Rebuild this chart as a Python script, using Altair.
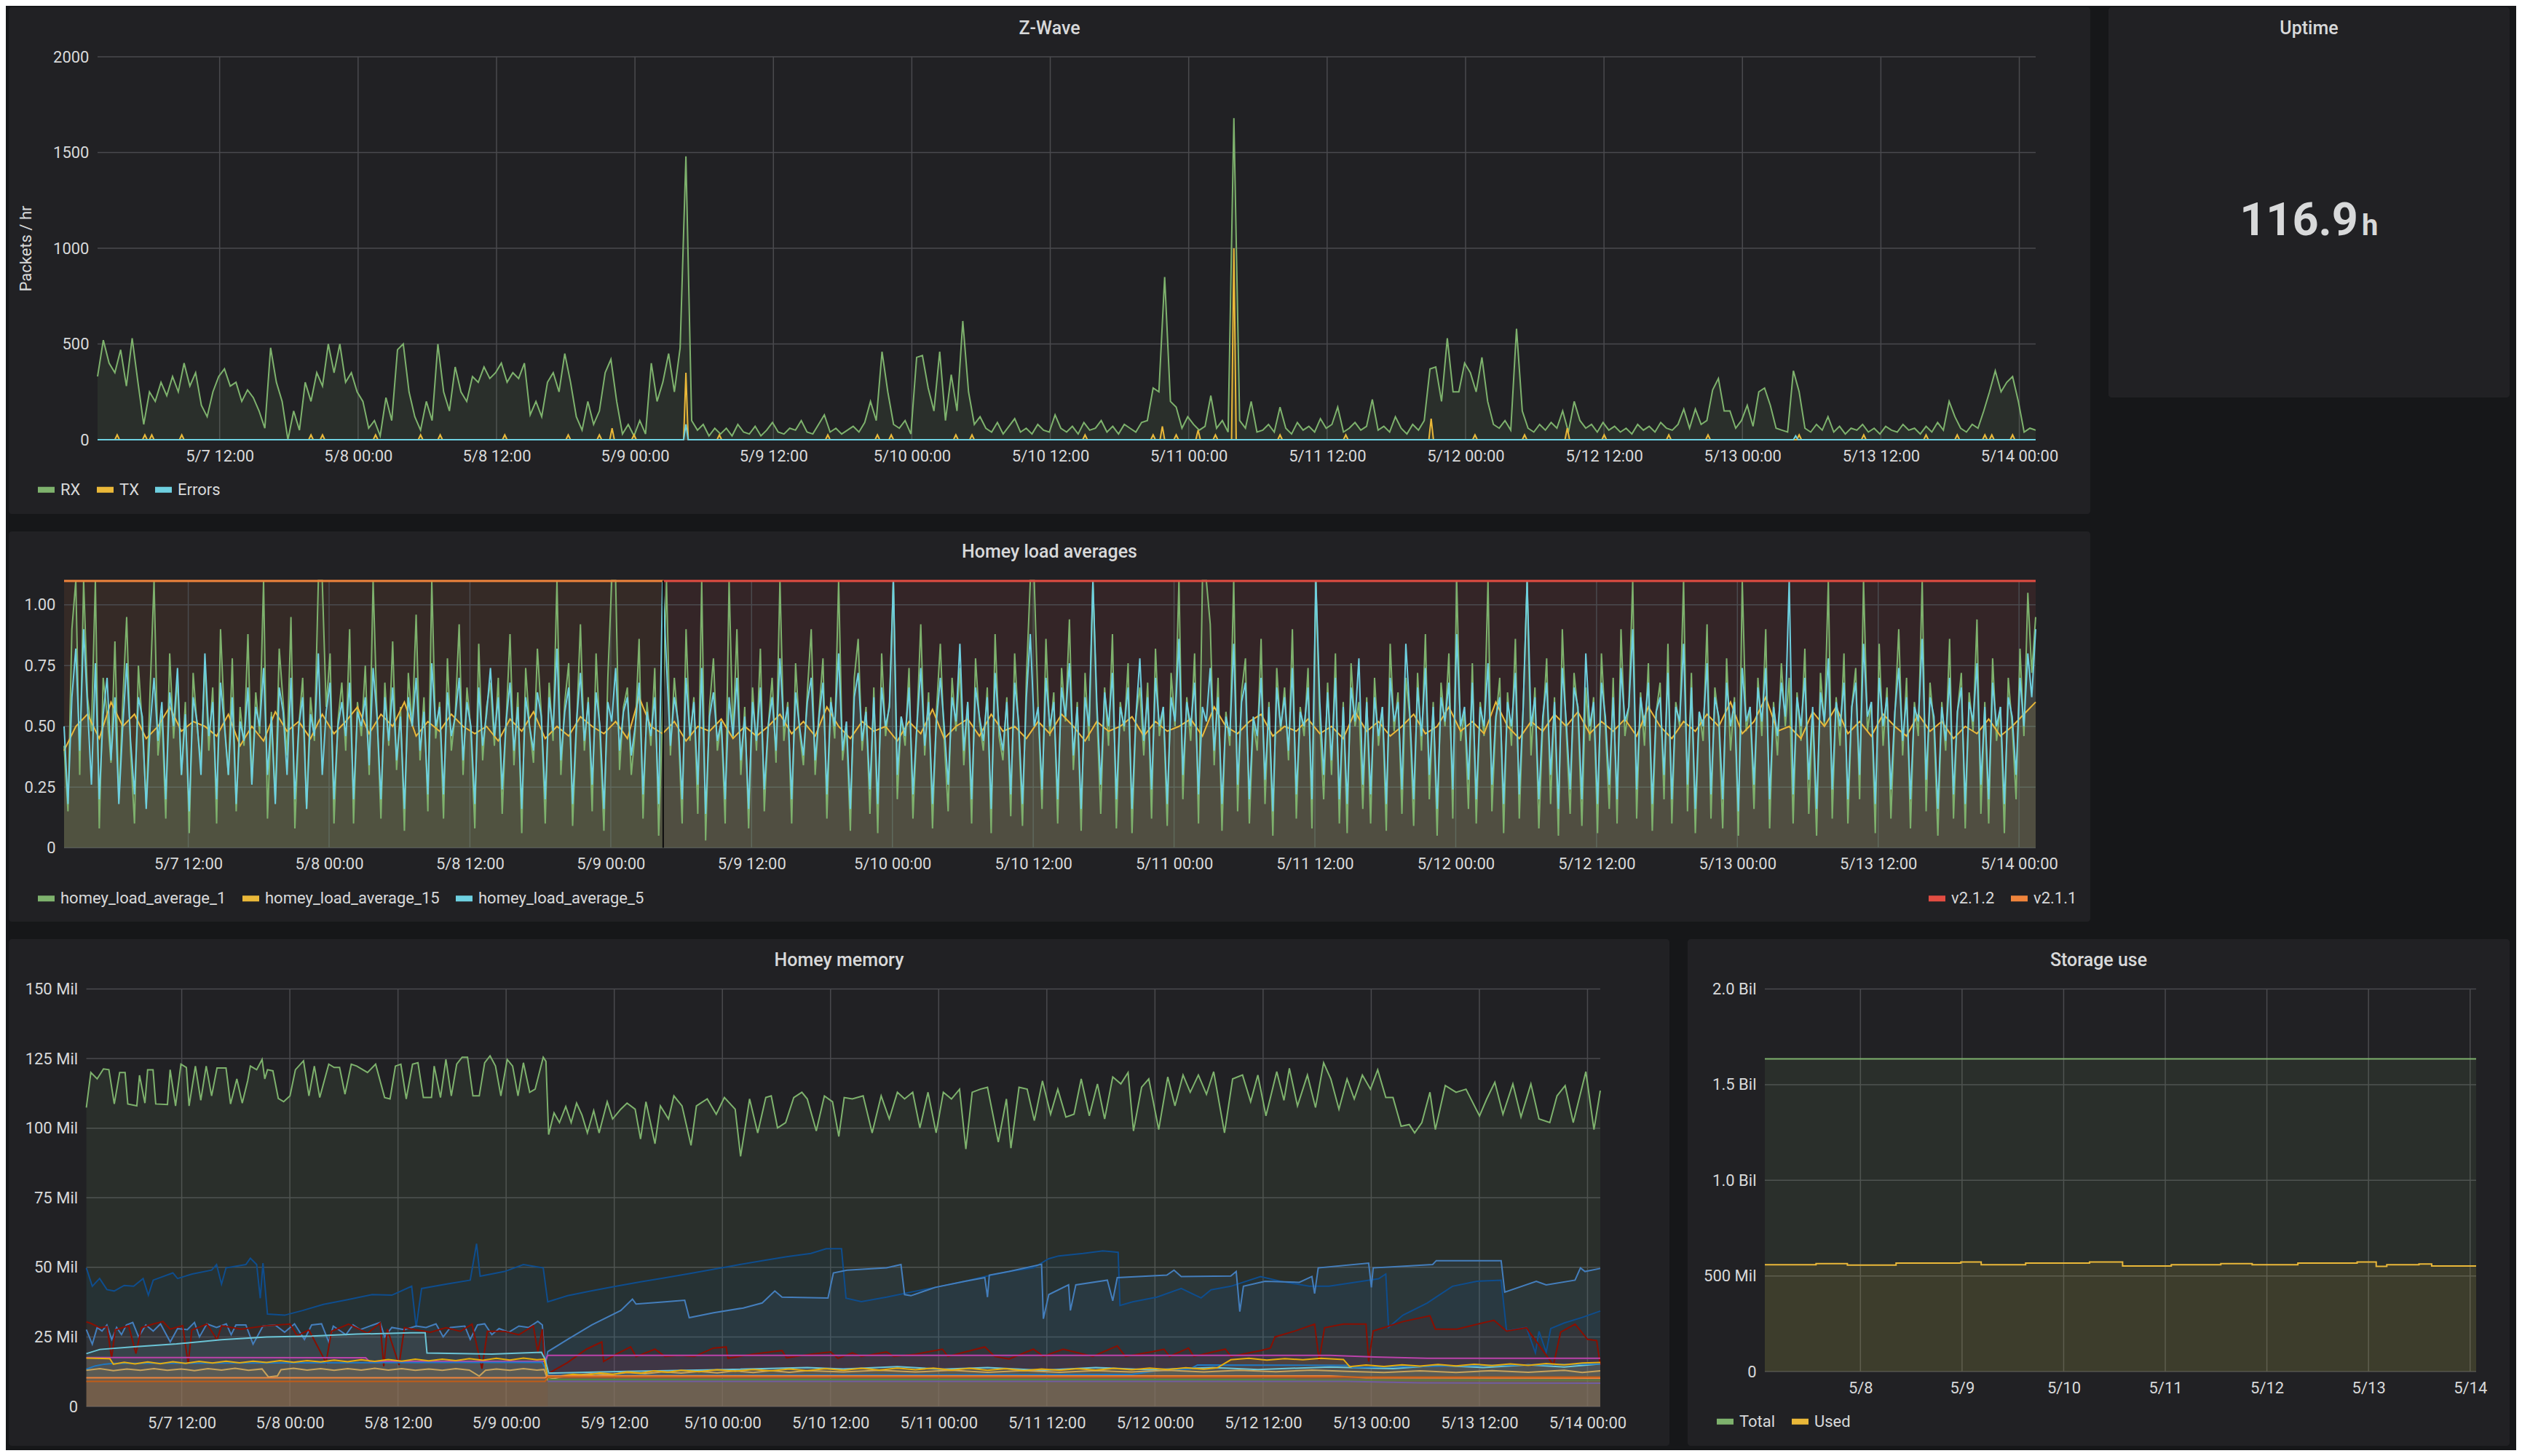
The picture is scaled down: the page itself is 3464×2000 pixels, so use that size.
import altair as alt
import pandas as pd
from datetime import datetime, timedelta

FONT = "Roboto"
BG = "#161719"
PANEL = "#212124"
TEXT = "#d8d9da"
GRID = "#4a4a4e"

START = datetime(2019, 5, 7, 1, 25)
SPAN_H = 168
END = START + timedelta(hours=SPAN_H)


def iso(h):
    return (START + timedelta(hours=h)).strftime("%Y-%m-%dT%H:%M:%S")


def to_alt(dt):
    return alt.DateTime(year=dt.year, month=dt.month, date=dt.day, hours=dt.hour, minutes=dt.minute)


X_DOMAIN = [to_alt(START), to_alt(END)]
TICK_12H = [datetime(2019, 5, d, hh) for d in range(7, 15) for hh in (0, 12)
            if START < datetime(2019, 5, d, hh) < END]
TICK_DAY = [datetime(2019, 5, d) for d in range(8, 15)]

# ---------------- Z-Wave data (packets / hr), half-hour samples ----------------
RX = [
    330, 520, 400, 350, 470, 280, 530, 300, 80, 250, 200, 300, 230, 330, 250, 400, 280, 350, 180, 120, 250, 330, 370, 280,
    300, 200, 260, 220, 150, 60, 480, 300, 200, 0, 150, 50, 300, 200, 350, 280, 500, 350, 500, 300, 350, 250, 200, 60,
    100, 20, 220, 100, 470, 500, 250, 120, 50, 200, 100, 500, 250, 150, 380, 250, 200, 330, 300, 380, 320, 350, 400, 300,
    350, 320, 400, 130, 200, 120, 300, 350, 250, 450, 300, 120, 50, 200, 80, 150, 350, 420, 200, 30, 80, 20, 100, 30,
    400, 200, 300, 450, 250, 480, 1480, 100, 50, 80, 20, 60, 30, 60, 20, 80, 40, 30, 70, 20, 50, 90, 40, 30,
    60, 50, 100, 40, 30, 80, 130, 40, 60, 30, 50, 70, 40, 90, 200, 100, 460, 250, 80, 60, 100, 30, 430, 440,
    270, 150, 460, 100, 340, 150, 620, 250, 80, 120, 60, 40, 90, 30, 70, 110, 40, 60, 30, 80, 50, 40, 130, 60,
    40, 70, 30, 90, 50, 60, 100, 40, 70, 30, 80, 60, 40, 90, 100, 270, 250, 850, 200, 170, 60, 120, 80, 50,
    70, 230, 60, 100, 40, 1680, 100, 60, 200, 40, 50, 80, 40, 170, 60, 30, 90, 50, 70, 40, 110, 60, 80, 170,
    40, 60, 90, 50, 70, 210, 50, 70, 40, 120, 60, 30, 80, 50, 100, 370, 380, 200, 530, 250, 250, 400, 350, 250,
    430, 200, 80, 60, 100, 50, 580, 150, 60, 40, 80, 50, 90, 60, 150, 40, 200, 100, 60, 80, 40, 90, 50, 70,
    40, 60, 30, 80, 50, 70, 40, 90, 60, 50, 80, 160, 60, 160, 80, 100, 260, 320, 150, 150, 60, 100, 180, 70,
    250, 270, 180, 60, 50, 40, 360, 250, 60, 40, 80, 50, 120, 40, 70, 30, 60, 50, 80, 40, 60, 30, 70, 50,
    40, 80, 50, 60, 30, 70, 40, 90, 50, 200, 120, 60, 40, 80, 60, 150, 250, 360, 250, 300, 330, 200, 40, 60,
    50,
]
TX_BUMPS = [(1.7, 25), (4.1, 25), (4.7, 25), (7.3, 25), (18.5, 25), (19.5, 25), (24.1, 25), (28.0, 25),
            (29.7, 25), (35.3, 25), (40.8, 25), (43.5, 25), (44.6, 60), (46.5, 25), (51.0, 350), (53.9, 25),
            (63.3, 25), (67.6, 25), (68.8, 25), (74.4, 25), (75.8, 25), (85.6, 25), (91.5, 25), (92.3, 70),
            (93.5, 25), (95.4, 50), (96.9, 25), (98.5, 1000), (102.5, 25), (108.2, 25), (115.6, 110),
            (119.4, 25), (123.7, 25), (127.4, 60), (130.6, 25), (136.2, 25), (139.6, 25), (147.5, 25),
            (153.1, 25), (158.5, 25), (161.2, 25), (163.6, 25), (164.2, 25), (166.0, 25)]
ERR_BUMPS = [(51.0, 80), (147.2, 20)]
ZW_SERIES = ["RX", "TX", "Errors"]
ZW_COLORS = ["#7EB26D", "#EAB839", "#6ED0E0"]

# ---------------- Load averages (20-minute samples for 1 and 5, hourly for 15) ----------------
LOAD_1 = [
    0.42, 0.15, 0.9, 1.25, 0.3, 1.3, 0.62, 0.48, 1.2, 0.08, 0.7, 0.55, 0.35, 0.85, 0.2, 0.6, 0.95, 0.4, 0.1, 0.75, 0.5, 0.18, 0.65, 1.15,
    0.38, 0.55, 0.12, 0.8, 0.45, 0.7, 0.3, 0.6, 0.06, 0.72, 0.5, 0.35, 0.76, 0.4, 0.66, 0.1, 0.9, 0.52, 0.3, 0.78, 0.15, 0.58, 0.42, 0.88,
    0.27, 0.64, 0.47, 1.12, 0.12, 0.56, 0.2, 0.82, 0.6, 0.38, 0.95, 0.08, 0.5, 0.7, 0.16, 0.62, 0.44, 1.2, 1.15, 0.58, 0.8, 0.1, 0.52, 0.68,
    0.4, 0.9, 0.1, 0.6, 0.46, 0.75, 0.3, 1.1, 0.55, 0.12, 0.68, 0.42, 0.85, 0.32, 0.58, 0.07, 0.72, 0.5, 0.96, 0.36, 0.62, 0.15, 1.15, 0.45,
    0.6, 0.12, 0.78, 0.4, 0.55, 0.92, 0.3, 0.66, 0.48, 0.08, 0.84, 0.36, 0.58, 0.68, 0.42, 0.7, 0.14, 0.52, 0.88, 0.34, 0.64, 0.06, 0.74, 0.5,
    0.35, 0.82, 0.55, 0.1, 0.68, 0.44, 1.2, 0.3, 0.6, 0.76, 0.09, 0.5, 0.92, 0.4, 0.62, 0.15, 0.8, 0.46, 0.07, 0.7, 1.15, 1.25, 0.32, 0.58,
    0.66, 0.3, 0.48, 0.86, 0.12, 0.6, 0.42, 0.74, 0.05, 0.56, 1.22, 0.38, 0.7, 0.5, 0.1, 0.9, 0.44, 0.62, 0.14, 1.12, 0.03, 0.58, 0.78, 0.4,
    0.52, 0.1, 1.2, 0.45, 0.9, 0.3, 0.58, 0.08, 0.66, 0.4, 0.82, 0.15, 0.5, 0.7, 0.35, 1.15, 0.44, 0.6, 0.1, 0.76, 0.48, 0.34, 0.64, 0.9,
    0.3, 0.56, 0.78, 0.12, 0.62, 0.45, 1.1, 0.36, 0.5, 0.07, 0.7, 0.86, 0.4, 0.58, 0.14, 0.66, 0.06, 0.8, 0.46, 0.6, 1.2, 0.2, 0.54, 0.42,
    0.74, 0.12, 0.5, 0.92, 0.38, 0.64, 0.08, 0.56, 0.84, 0.44, 0.15, 0.7, 0.48, 0.74, 0.34, 0.6, 0.1, 0.78, 0.52, 0.4, 0.66, 0.06, 0.88, 0.46,
    0.36, 0.62, 0.13, 0.8, 0.5, 0.09, 0.7, 1.2, 1.15, 0.58, 0.16, 0.86, 0.46, 0.64, 0.1, 0.74, 0.52, 0.94, 0.32, 0.6, 0.07, 0.72, 0.44, 1.1,
    0.56, 0.14, 0.66, 0.42, 0.88, 0.08, 0.6, 0.48, 0.76, 0.06, 0.54, 0.66, 0.38, 0.68, 0.12, 0.82, 0.46, 0.58, 0.09, 0.72, 0.5, 1.18, 0.2, 0.62,
    0.44, 0.8, 0.1, 1.2, 1.1, 0.92, 0.34, 0.7, 0.07, 0.56, 0.42, 1.12, 0.15, 0.64, 0.78, 0.1, 0.52, 0.4, 0.86, 0.18, 0.6, 0.05, 0.74, 0.48,
    0.66, 0.36, 0.9, 0.12, 0.58, 0.46, 0.74, 0.08, 1.2, 0.52, 0.2, 0.68, 0.3, 0.8, 0.1, 0.6, 0.06, 0.76, 0.5, 0.6, 0.16, 0.62, 0.1, 0.7,
    0.42, 0.58, 0.07, 0.84, 0.48, 0.64, 0.14, 0.7, 0.54, 0.09, 0.72, 0.4, 0.88, 0.2, 0.6, 0.05, 0.68, 0.5, 0.8, 0.12, 1.15, 0.44, 0.56, 0.16,
    0.76, 0.1, 0.6, 0.46, 1.2, 0.15, 0.52, 0.7, 0.06, 0.64, 0.42, 0.86, 0.12, 0.58, 1.2, 0.38, 0.66, 0.08, 0.5, 0.78, 0.18, 0.62, 0.05, 0.9,
    0.48, 0.14, 0.72, 0.56, 0.09, 0.66, 0.44, 0.62, 0.06, 0.8, 0.5, 0.16, 0.7, 0.1, 0.9, 0.46, 0.58, 1.18, 0.12, 0.64, 0.42, 0.76, 0.07, 0.56,
    0.68, 0.2, 0.84, 0.1, 0.6, 0.5, 1.12, 0.15, 0.72, 0.06, 0.56, 0.44, 0.92, 0.12, 0.66, 0.52, 0.08, 0.78, 0.4, 0.62, 0.05, 1.2, 0.48, 0.58,
    0.16, 0.7, 0.46, 0.9, 0.08, 0.6, 0.38, 0.76, 0.5, 0.7, 0.1, 0.64, 0.44, 0.82, 0.14, 0.56, 0.05, 0.72, 0.5, 1.2, 0.12, 0.62, 0.42, 0.8,
    0.1, 0.58, 0.74, 0.2, 1.1, 0.48, 0.6, 0.06, 0.84, 0.42, 0.66, 0.12, 0.54, 0.9, 0.38, 0.7, 0.08, 0.6, 0.46, 1.15, 0.15, 0.68, 0.5, 0.05,
    0.6, 0.4, 0.86, 0.12, 0.56, 0.72, 0.08, 0.64, 0.48, 0.94, 0.14, 0.6, 0.1, 0.78, 0.44, 0.58, 0.06, 0.7, 0.5, 0.2, 0.82, 0.46, 1.05, 0.72,
    0.95,
]
LOAD_5 = [
    0.5, 0.18, 0.62, 0.82, 0.4, 0.9, 0.58, 0.26, 0.76, 0.2, 0.55, 0.7, 0.36, 0.62, 0.18, 0.5, 0.76, 0.44, 0.22, 0.62, 0.54, 0.16, 0.5, 0.7,
    0.44, 0.6, 0.2, 0.64, 0.5, 0.74, 0.3, 0.55, 0.15, 0.62, 0.52, 0.3, 0.8, 0.46, 0.6, 0.2, 0.68, 0.5, 0.3, 0.62, 0.18, 0.52, 0.44, 0.66,
    0.26, 0.58, 0.5, 0.74, 0.3, 0.54, 0.18, 0.66, 0.56, 0.3, 0.7, 0.2, 0.5, 0.62, 0.16, 0.55, 0.46, 0.8, 0.3, 0.56, 0.68, 0.2, 0.5, 0.6,
    0.46, 0.68, 0.2, 0.56, 0.5, 0.62, 0.34, 0.74, 0.54, 0.2, 0.62, 0.44, 0.66, 0.36, 0.54, 0.16, 0.62, 0.5, 0.7, 0.4, 0.56, 0.22, 0.76, 0.5,
    0.58, 0.22, 0.64, 0.46, 0.54, 0.7, 0.36, 0.6, 0.5, 0.18, 0.66, 0.42, 0.55, 0.74, 0.46, 0.62, 0.24, 0.52, 0.68, 0.4, 0.58, 0.16, 0.62, 0.5,
    0.4, 0.64, 0.54, 0.2, 0.62, 0.48, 0.82, 0.36, 0.56, 0.66, 0.18, 0.52, 0.72, 0.44, 0.6, 0.26, 0.64, 0.5, 0.16, 0.6, 0.52, 0.74, 0.4, 0.56,
    0.62, 0.38, 0.5, 0.68, 0.22, 0.56, 0.46, 0.62, 0.18, 1.1, 0.76, 0.42, 0.62, 0.52, 0.2, 0.7, 0.46, 0.6, 0.26, 0.74, 0.14, 0.54, 0.64, 0.44,
    0.52, 0.2, 0.62, 0.46, 0.7, 0.36, 0.54, 0.16, 0.6, 0.44, 0.66, 0.24, 0.5, 0.62, 0.4, 0.78, 0.5, 0.58, 0.2, 0.64, 0.5, 0.38, 0.6, 0.7,
    0.36, 0.54, 0.68, 0.22, 0.6, 0.5, 0.8, 0.4, 0.52, 0.16, 0.62, 0.72, 0.44, 0.56, 0.24, 0.62, 0.18, 0.66, 0.5, 0.58, 1.1, 0.3, 0.54, 0.46,
    0.66, 0.22, 0.5, 0.74, 0.42, 0.6, 0.18, 0.52, 0.7, 0.5, 0.26, 0.62, 0.52, 0.84, 0.4, 0.6, 0.2, 0.66, 0.54, 0.44, 0.62, 0.16, 0.72, 0.5,
    0.4, 0.6, 0.22, 0.68, 0.52, 0.18, 0.62, 0.88, 0.5, 0.58, 0.24, 0.7, 0.5, 0.6, 0.2, 0.66, 0.54, 0.76, 0.38, 0.58, 0.16, 0.62, 0.5, 1.1,
    0.6, 0.26, 0.64, 0.5, 0.72, 0.2, 0.58, 0.5, 0.66, 0.16, 0.54, 0.78, 0.44, 0.62, 0.24, 0.7, 0.5, 0.58, 0.18, 0.62, 0.52, 0.86, 0.3, 0.6,
    0.5, 0.68, 0.22, 0.58, 0.52, 0.74, 0.4, 0.62, 0.18, 0.54, 0.46, 0.84, 0.26, 0.6, 0.68, 0.2, 0.54, 0.46, 0.7, 0.28, 0.58, 0.15, 0.66, 0.5,
    0.62, 0.4, 0.74, 0.22, 0.56, 0.5, 0.66, 0.2, 1.1, 0.6, 0.3, 0.64, 0.36, 0.7, 0.2, 0.58, 0.18, 0.66, 0.52, 0.78, 0.26, 0.6, 0.22, 0.62,
    0.46, 0.58, 0.18, 0.7, 0.52, 0.6, 0.24, 0.84, 0.56, 0.2, 0.66, 0.46, 0.74, 0.3, 0.58, 0.16, 0.62, 0.52, 0.68, 0.24, 0.88, 0.5, 0.58, 0.28,
    0.68, 0.2, 0.58, 0.5, 0.76, 0.26, 0.54, 0.62, 0.18, 0.6, 0.5, 0.72, 0.22, 0.58, 1.1, 0.5, 0.62, 0.2, 0.54, 0.68, 0.3, 0.6, 0.16, 0.74,
    0.52, 0.24, 0.66, 0.58, 0.2, 0.8, 0.5, 0.6, 0.18, 0.68, 0.54, 0.26, 0.62, 0.2, 0.74, 0.52, 0.58, 0.9, 0.24, 0.62, 0.5, 0.68, 0.18, 0.56,
    0.62, 0.3, 0.72, 0.2, 0.58, 0.52, 0.84, 0.26, 0.66, 0.16, 0.56, 0.5, 0.76, 0.22, 0.62, 0.54, 0.2, 0.68, 0.5, 0.6, 0.15, 0.74, 0.52, 0.58,
    0.26, 0.66, 0.52, 0.74, 0.2, 0.58, 0.46, 0.68, 0.54, 1.1, 0.22, 0.62, 0.5, 0.7, 0.28, 0.58, 0.16, 0.64, 0.52, 0.78, 0.24, 0.6, 0.5, 0.68,
    0.2, 0.58, 0.68, 0.3, 0.84, 0.54, 0.6, 0.18, 0.7, 0.5, 0.62, 0.24, 0.56, 0.74, 0.44, 0.62, 0.2, 0.58, 0.52, 0.86, 0.28, 0.62, 0.54, 0.16,
    0.58, 0.44, 0.7, 0.22, 0.56, 0.66, 0.18, 0.6, 0.52, 0.76, 0.26, 0.58, 0.2, 0.68, 0.5, 0.58, 0.18, 0.62, 0.54, 0.3, 0.7, 0.5, 0.8, 0.62,
    0.9,
]
LOAD_15 = [
    0.4, 0.5, 0.55, 0.45, 0.6, 0.5, 0.55, 0.45, 0.5, 0.58, 0.48, 0.52,
    0.5, 0.46, 0.55, 0.42, 0.5, 0.44, 0.56, 0.48, 0.52, 0.45, 0.55, 0.47,
    0.52, 0.58, 0.47, 0.55, 0.5, 0.6, 0.46, 0.52, 0.48, 0.55, 0.5, 0.47,
    0.5, 0.44, 0.53, 0.48, 0.56, 0.45, 0.5, 0.46, 0.54, 0.5, 0.47, 0.52,
    0.45, 0.62, 0.5, 0.47, 0.52, 0.44, 0.5, 0.48, 0.53, 0.45, 0.5, 0.46,
    0.5, 0.55, 0.47, 0.52, 0.46, 0.58, 0.5, 0.45, 0.52, 0.48, 0.5, 0.44,
    0.52, 0.47, 0.57, 0.45, 0.5, 0.53, 0.46, 0.55, 0.48, 0.5, 0.45, 0.52,
    0.47, 0.55, 0.5, 0.44, 0.52, 0.48, 0.5, 0.54, 0.46, 0.52, 0.48, 0.5,
    0.53, 0.46, 0.58, 0.5, 0.47, 0.52, 0.55, 0.46, 0.5, 0.48, 0.53, 0.47,
    0.5, 0.45, 0.56, 0.48, 0.52, 0.46, 0.5, 0.55, 0.47, 0.5, 0.58, 0.48,
    0.52, 0.47, 0.6, 0.5, 0.45, 0.52, 0.48, 0.55, 0.5, 0.56, 0.47, 0.52,
    0.48, 0.53, 0.46, 0.58, 0.5, 0.45, 0.52, 0.48, 0.55, 0.5, 0.6, 0.47,
    0.52, 0.62, 0.48, 0.5, 0.45, 0.56, 0.5, 0.58, 0.47, 0.52, 0.46, 0.55,
    0.5, 0.46, 0.55, 0.48, 0.52, 0.45, 0.5, 0.47, 0.53, 0.46, 0.5, 0.55,
    0.6,
]
LOAD_SERIES = ["homey_load_average_1", "homey_load_average_15", "homey_load_average_5"]
LOAD_COLORS = ["#7EB26D", "#EAB839", "#6ED0E0"]
VERSIONS = ["v2.1.2", "v2.1.1"]
VERSION_COLORS = ["#E24D42", "#EF843C"]
VERSION_START_H = [51.05, 0.0]
VERSION_END_H = [168.0, 51.05]

# ---------------- Homey memory (Mil), (hour, value) ----------------
MEM_GREEN = [(0, 107.4), (0.5, 120), (1.2, 117.7), (1.9, 121.3), (2.5, 121), (3.1, 108.7), (3.7, 120), (4.3, 120), (4.6, 108.7), (5.6, 108), (5.9, 119), (6.5, 109), (6.8, 121), (7.4, 121), (7.7, 108.7), (9.0, 108.5), (9.3, 121), (9.9, 108), (10.5, 123), (11.1, 121.8), (11.4, 108), (12.1, 122.3), (12.7, 110), (13.3, 122.3), (13.9, 111.6), (14.5, 121.6), (15.5, 121.6), (16.0, 108.7), (16.7, 117.7), (17.3, 109), (17.9, 117), (18.2, 122.3), (18.9, 121), (19.5, 124.7), (19.8, 117.7), (20.1, 121), (20.7, 120.6), (21.3, 110.7), (21.9, 109.5), (22.6, 111.6), (23.2, 121), (24.1, 124.2), (24.7, 111.6), (25.3, 122.3), (25.9, 111), (26.9, 123), (27.5, 121.8), (28.1, 121.8), (28.7, 112.2), (29.4, 123), (30.0, 122.3), (31.2, 120), (32.1, 123), (33.1, 111), (33.7, 110.5), (34.3, 122.3), (34.9, 123), (35.5, 110.5), (36.2, 123), (36.8, 123.5), (37.4, 111), (38.3, 111), (38.6, 122.3), (39.3, 111), (39.9, 124.7), (40.5, 111.6), (41.1, 123), (41.7, 125.5), (42.3, 125.5), (42.9, 111.6), (43.6, 111.6), (44.2, 123.5), (44.8, 126), (45.4, 122.3), (46.0, 111.6), (46.7, 124.7), (47.3, 122.3), (47.9, 111.6), (48.5, 123.5), (49.2, 112.9), (49.8, 114), (50.7, 125.5), (51.0, 124), (51.3, 97.7), (51.9, 105.5), (52.5, 102), (53.2, 107.8), (53.8, 102), (54.4, 109), (55.0, 104.7), (55.6, 98.3), (56.3, 106.3), (56.9, 98.3), (57.8, 109.5), (58.4, 103.3), (59.3, 106.8), (60.0, 109), (60.9, 106.8), (61.5, 96.1), (62.1, 109.5), (63.1, 94.4), (63.7, 108), (64.6, 103.3), (65.2, 111.6), (66.1, 108), (67.1, 93.8), (67.7, 108), (68.9, 110.5), (69.9, 105), (70.8, 111), (72.0, 106.8), (72.6, 89.9), (73.6, 110.5), (74.5, 98.3), (75.4, 111), (76.0, 111.6), (76.7, 100.1), (77.6, 102), (78.5, 111), (79.4, 112.9), (80.0, 110.5), (81.0, 99), (81.9, 111.6), (82.8, 109.5), (83.5, 97), (84.1, 111), (85.0, 110.5), (86.2, 111.6), (87.2, 98.3), (88.2, 111.6), (89.1, 103.3), (90.0, 112.9), (90.8, 110.5), (91.7, 112.9), (92.5, 100.1), (93.4, 112.9), (94.3, 98.3), (95.1, 112.9), (96.0, 110.5), (96.9, 114), (97.6, 92.5), (98.3, 112.9), (99.2, 114), (100.0, 114.7), (101.2, 95), (102.1, 110.5), (102.6, 92.8), (103.5, 114.7), (104.4, 114), (105.2, 102.7), (106.1, 117), (107.0, 105), (107.8, 114), (108.7, 104), (109.6, 105), (110.4, 117.7), (111.3, 104.4), (112.2, 115.9), (113.0, 103.3), (113.9, 118.4), (114.8, 115.9), (115.6, 120), (116.2, 99), (117.1, 114.7), (117.9, 117.7), (119.0, 99.5), (120.0, 118.4), (120.8, 108), (121.7, 119.1), (122.5, 112.9), (123.4, 119.1), (124.3, 112.2), (125.1, 120.3), (126.3, 98.3), (127.2, 117.7), (128.3, 119.1), (129.2, 109.5), (130.0, 119.1), (130.9, 104.4), (132.1, 120.3), (132.9, 110), (133.5, 121.5), (134.4, 108), (135.5, 119.1), (136.4, 107.4), (137.3, 123.5), (138.1, 117.7), (139.0, 106.8), (139.9, 117.7), (140.7, 110.5), (141.6, 119.1), (142.5, 114), (143.3, 121), (144.2, 111), (145.0, 111), (145.9, 100.7), (146.8, 101.3), (147.4, 98.3), (148.2, 102), (149.1, 112.9), (149.7, 99.5), (150.8, 115.3), (152.0, 112.9), (153.1, 114), (154.6, 104.4), (155.4, 110.5), (156.3, 116.5), (157.2, 105), (158.3, 115.9), (159.2, 104), (160.3, 115.9), (161.2, 103.3), (162.4, 102), (163.2, 111.6), (164.1, 115.3), (165.0, 102), (166.4, 120.3), (167.3, 99.5), (168.0, 113.5)]
MEM_DBLUE = [(0, 49.8), (0.66, 43.2), (1.47, 46.0), (2.28, 42.0), (3.09, 41.5), (4.2, 43.5), (5.25, 43.2), (6.3, 46.0), (6.88, 40.0), (7.42, 45.4), (9.6, 48.0), (10.12, 46.0), (11.75, 47.6), (13.9, 49.0), (14.45, 51.0), (15.0, 44.0), (15.5, 49.8), (17.7, 51.0), (18.2, 53.3), (18.9, 51.0), (19.3, 38.9), (19.6, 51.5), (20.1, 33.2), (22.0, 32.8), (24.0, 34.5), (26.3, 36.7), (29.0, 38.4), (31.7, 40.2), (33.9, 40.0), (36.1, 43.2), (36.6, 28.4), (37.2, 42.4), (40.0, 44.0), (42.6, 45.4), (43.3, 58.5), (43.7, 46.8), (46.4, 48.5), (48.5, 51.0), (50.7, 49.8), (51.2, 37.6), (53.4, 39.8), (56.0, 41.5), (58.8, 43.2), (61.5, 44.8), (64.2, 46.2), (67.0, 47.8), (69.6, 49.3), (72.3, 50.9), (75.0, 52.4), (77.7, 53.8), (80.4, 55.0), (82.1, 56.7), (83.8, 56.7), (84.3, 38.9), (86.0, 37.7), (88.8, 39.3), (91.5, 41.1), (94.2, 42.8), (97.5, 45.0), (99.7, 46.7), (102.4, 48.5), (105.1, 49.8), (106.8, 53.1), (107.9, 54.1), (110.6, 55.0), (112.8, 55.9), (114.5, 55.4), (114.7, 36.3), (116.1, 37.6), (118.8, 39.3), (121.5, 42.4), (123.7, 39.0), (124.8, 41.9), (127.0, 43.2), (130.3, 46.7), (132.5, 45.0), (135.7, 43.2), (137.9, 43.2), (140.6, 44.5), (143.4, 45.9), (144.2, 47.6), (144.5, 28.4), (146.1, 32.8), (148.8, 37.2), (151.6, 43.2), (154.3, 45.0), (157.0, 45.4), (157.6, 27.2), (159.8, 28.4), (160.8, 19.3), (161.2, 27.0), (162.0, 19.5), (162.5, 28.0), (164.0, 30.0), (166.0, 32.0), (168.0, 34.3)]
MEM_BLUE = [(0, 27.6), (0.66, 22.4), (1.2, 28.4), (1.74, 27.1), (2.28, 29.3), (2.82, 24.1), (3.36, 28.4), (3.9, 25.8), (4.44, 29.3), (5.15, 30.2), (5.8, 25.0), (6.6, 29.3), (7.42, 27.1), (8.23, 29.7), (9.31, 23.2), (10.12, 28.0), (11.2, 27.6), (12.0, 30.2), (12.55, 25.0), (13.37, 29.7), (14.45, 28.4), (15.53, 29.7), (16.07, 25.8), (16.6, 29.3), (17.7, 29.3), (18.5, 22.4), (19.6, 28.9), (20.94, 29.3), (22.0, 26.7), (23.1, 29.7), (24.2, 24.1), (25.0, 29.3), (26.1, 29.7), (26.9, 23.2), (27.4, 28.9), (28.8, 25.8), (29.6, 29.3), (30.4, 27.6), (31.8, 29.3), (32.6, 30.2), (33.1, 25.0), (33.9, 28.4), (35.3, 27.6), (36.6, 28.9), (37.7, 28.4), (38.8, 29.7), (39.6, 25.0), (40.4, 28.4), (42.0, 28.9), (42.6, 24.1), (43.4, 29.3), (44.2, 29.7), (45.0, 25.8), (45.8, 28.0), (46.9, 26.7), (48.0, 28.9), (49.1, 28.4), (50.1, 30.6), (50.6, 29.3), (50.95, 15.3), (51.2, 19.7), (53.4, 24.1), (56.1, 29.3), (59.3, 34.5), (60.6, 38.6), (61.0, 36.8), (64.2, 37.6), (66.4, 38.2), (66.9, 31.9), (69.6, 33.7), (72.9, 35.4), (75.0, 37.2), (76.4, 41.5), (77.2, 39.3), (82.3, 39.0), (82.9, 48.0), (84.4, 49.0), (88.8, 49.8), (90.4, 51.0), (90.8, 40.2), (91.5, 39.8), (94.2, 42.8), (97.5, 45.0), (99.7, 46.3), (100.0, 39.3), (100.2, 47.2), (102.4, 48.5), (106.0, 51.1), (106.2, 31.5), (106.8, 40.2), (109.0, 43.7), (109.2, 34.5), (109.8, 43.7), (113.3, 45.4), (113.9, 38.0), (114.4, 46.3), (119.9, 47.2), (120.7, 49.0), (121.5, 46.7), (127.0, 46.9), (127.6, 48.5), (128.0, 34.1), (128.4, 43.2), (130.8, 45.0), (134.6, 44.6), (136.0, 46.7), (136.3, 40.6), (136.7, 49.8), (142.3, 51.5), (142.6, 42.8), (142.8, 49.8), (149.4, 51.0), (149.8, 52.4), (157.0, 52.4), (157.4, 41.1), (160.9, 45.0), (162.0, 43.7), (165.2, 45.4), (165.8, 49.8), (166.3, 48.5), (168.0, 49.6)]
MEM_RED = [(0, 30.4), (0.4, 30.0), (1.5, 28.3), (2.3, 28.7), (2.8, 17.3), (3.2, 27.5), (4.7, 29.0), (5.5, 19.0), (6.1, 28.3), (7.4, 29.6), (8.5, 30.5), (9.3, 27.8), (10.7, 29.0), (11.3, 15.3), (11.7, 27.5), (13.4, 29.6), (14.5, 24.0), (15.0, 29.0), (17.2, 27.8), (19.9, 29.0), (22.6, 29.6), (23.4, 25.4), (24.7, 27.5), (26.6, 15.8), (27.2, 27.0), (29.1, 29.6), (31.2, 26.3), (32.6, 30.0), (33.0, 14.5), (33.4, 27.8), (34.7, 14.9), (35.3, 28.3), (36.6, 27.5), (38.2, 26.7), (39.9, 28.3), (41.5, 27.0), (42.8, 29.6), (43.9, 13.6), (44.5, 27.0), (46.4, 27.0), (48.0, 25.8), (49.6, 29.0), (50.1, 19.6), (50.6, 27.8), (50.9, 12.3), (51.3, 11.9), (53.4, 15.8), (55.5, 20.6), (57.2, 23.2), (57.4, 16.2), (58.8, 18.8), (60.4, 21.4), (61.0, 17.9), (63.1, 20.6), (64.2, 18.0), (65.8, 18.4), (67.5, 18.0), (69.6, 21.0), (71.0, 21.4), (71.2, 17.3), (73.9, 18.8), (77.2, 20.1), (77.7, 17.5), (80.4, 18.8), (82.6, 19.6), (83.4, 17.3), (85.0, 19.3), (86.0, 18.0), (88.8, 19.6), (89.6, 18.0), (92.0, 18.8), (95.0, 20.6), (95.6, 18.0), (99.7, 21.4), (100.8, 18.0), (102.4, 17.1), (105.1, 20.6), (106.2, 18.0), (108.4, 20.6), (111.7, 18.0), (114.4, 21.8), (115.3, 18.0), (118.3, 19.7), (119.6, 20.6), (120.2, 18.0), (122.3, 21.0), (122.9, 18.0), (126.4, 20.6), (127.0, 18.0), (130.3, 20.1), (131.4, 21.0), (131.9, 25.0), (134.1, 27.1), (136.3, 29.6), (136.8, 16.7), (137.4, 28.3), (139.5, 29.6), (142.0, 29.6), (142.3, 16.2), (142.8, 27.1), (146.1, 30.5), (149.1, 32.6), (149.7, 27.8), (152.1, 27.8), (156.2, 31.0), (157.6, 27.1), (159.8, 28.3), (162.8, 14.9), (163.6, 26.7), (165.2, 29.6), (166.6, 24.1), (167.6, 23.7), (168.0, 15.0)]
MEM_MAGENTA = [(0, 17.6), (31.0, 17.5), (31.4, 16.2), (50.9, 16.2), (51.2, 18.4), (138.0, 18.4), (143.0, 17.8), (148.8, 17.3), (168.0, 17.3)]
MEM_CYAN = [(0, 19.0), (1.5, 20.5), (5, 21.4), (10, 22.5), (15, 24.0), (20, 25.0), (25, 25.3), (30, 26.0), (36, 26.5), (37.6, 26.5), (37.8, 19.2), (45, 18.8), (50.5, 19.5), (50.9, 17.0), (51.3, 12.0), (60, 12.6), (70, 13.2), (80, 14.0), (84, 13.5), (90, 14.3), (95, 13.4), (100, 14.0), (106, 13.0), (112, 14.0), (118, 13.2), (125, 14.0), (130, 13.3), (138, 14.2), (145, 13.6), (150, 14.8), (155, 14.0), (160, 15.0), (164, 14.2), (168, 15.3)]
MEM_GOLD = [(0, 17.4), (2.6, 17.2), (3.0, 15.2), (4.2, 15.9), (5.4, 15.3), (6.8, 16.0), (8.2, 15.4), (9.6, 16.1), (11.0, 15.5), (12.5, 16.2), (14.0, 15.6), (15.5, 16.3), (17.0, 15.7), (18.5, 16.3), (20.0, 15.8), (21.5, 16.5), (23.0, 15.9), (24.5, 16.5), (26.0, 16.0), (27.5, 16.7), (29.0, 16.1), (30.5, 16.8), (32.0, 16.2), (33.5, 16.9), (35.0, 16.3), (36.5, 17.0), (38.0, 16.4), (39.5, 17.0), (41.0, 16.5), (42.5, 17.2), (44.0, 16.6), (45.5, 17.3), (47.0, 16.7), (48.5, 17.4), (50.0, 16.8), (50.8, 17.0), (51.2, 10.4), (52.5, 10.9), (54, 11.6), (55.5, 11.2), (57, 12.0), (58.5, 11.6), (60, 12.4), (61.5, 12.0), (63, 12.8), (64.5, 12.3), (66, 13.0), (68, 12.5), (70, 13.2), (72, 12.7), (74, 13.3), (76, 12.8), (78, 13.5), (80, 12.9), (82, 13.6), (84, 13.0), (86, 13.7), (88, 13.1), (90, 13.8), (92, 13.2), (94, 13.8), (96, 13.1), (98, 13.7), (100, 13.0), (102, 13.6), (104, 12.9), (106, 13.5), (108, 13.0), (110, 13.6), (112, 13.1), (114, 13.7), (116, 13.2), (118, 13.8), (120, 13.3), (122, 13.9), (124, 13.4), (125.5, 13.9), (127, 16.8), (129, 17.3), (131, 16.7), (133, 17.2), (135, 16.8), (137, 17.3), (139.5, 16.9), (140.2, 14.3), (142, 14.9), (144, 14.4), (146, 15.0), (148, 14.5), (150, 15.1), (152, 14.6), (154, 15.2), (156, 14.7), (158, 15.3), (160, 14.8), (162, 15.4), (164, 15.0), (166, 15.6), (168, 15.8)]
MEM_TAN = [(0, 13.0), (1.5, 13.6), (3, 12.9), (4.5, 13.5), (6, 13.0), (7.5, 13.6), (9, 13.0), (10.5, 13.5), (12, 12.9), (13.5, 13.6), (15, 13.1), (16.5, 13.7), (18, 13.0), (19.5, 13.5), (20.2, 10.6), (21.2, 11.0), (21.6, 13.2), (23, 13.7), (24.5, 13.1), (26, 13.6), (27.5, 13.0), (29, 13.6), (30.5, 13.1), (32, 13.7), (33.5, 13.1), (35, 13.6), (36.5, 13.0), (38, 13.5), (39.5, 13.0), (41, 13.6), (42.5, 13.1), (43.6, 10.9), (44.3, 13.0), (45.5, 13.5), (47, 13.0), (48.5, 13.6), (50, 13.1), (50.8, 13.3), (51.2, 9.6), (52.5, 10.5), (54, 11.2), (56, 11.8), (58, 11.4), (60, 12.2), (62, 11.8), (64, 12.5), (66, 12.0), (68, 12.6), (70, 12.1), (72, 12.8), (74, 12.2), (76, 12.9), (78, 12.3), (80, 12.9), (84, 12.4), (88, 13.0), (92, 12.4), (96, 13.0), (100, 12.3), (104, 12.9), (108, 12.3), (112, 12.9), (116, 12.4), (120, 13.0), (124, 12.4), (128, 13.0), (132, 12.5), (136, 13.1), (140, 12.6), (144, 12.2), (148, 12.8), (152, 12.2), (156, 12.9), (160, 12.3), (164, 13.0), (166, 12.2), (168, 12.8)]
MEM_LBLUE = [(0, 13.4), (1, 14.6), (2, 15.2), (3, 15.5), (50.6, 15.9), (51.0, 13.0), (51.3, 11.2), (60, 11.1), (90, 11.3), (116, 11.5), (119.5, 13.2), (122.5, 13.5), (123.3, 14.9), (140, 14.8), (140.6, 14.0), (150, 14.5), (168, 15.3)]
MEM_ORANGE = [(0, 10.3), (50.9, 10.3), (51.2, 11.0), (138, 11.0), (142, 10.3), (168, 10.2)]
MEM_DORANGE = [(0, 9.0), (50.9, 9.0), (51.2, 10.6), (168, 10.6)]
MEM_DGREEN = [(51.2, 9.7), (168, 9.6)]
MEM_VIOLET = [(51.2, 9.0), (140, 9.0), (148, 8.5), (168, 8.4)]
MEM_SERIES = [
    ("green", "#7EB26D", MEM_GREEN), ("dblue", "#0E4D8E", MEM_DBLUE), ("blue", "#447EBC", MEM_BLUE),
    ("red", "#890F02", MEM_RED), ("magenta", "#BA43A9", MEM_MAGENTA), ("cyan", "#6BC4D6", MEM_CYAN),
    ("lblue", "#1F78C1", MEM_LBLUE), ("tan", "#C9A35A", MEM_TAN), ("gold", "#E5AC0E", MEM_GOLD),
    ("orange", "#EF843C", MEM_ORANGE), ("dorange", "#C15C17", MEM_DORANGE), ("dgreen", "#508642", MEM_DGREEN),
    ("violet", "#705DA0", MEM_VIOLET),
]

# ---------------- Storage (Bil) ----------------
STORAGE_TOTAL = [(0, 1.635), (168, 1.635)]
STORAGE_USED = [(0, 0.5586), (12.1, 0.5638), (19.5, 0.557), (31, 0.5673), (46.3, 0.5725), (51.1, 0.5586), (61.6, 0.5673),
                (76.7, 0.5725), (84.5, 0.5517), (96, 0.5586), (107.7, 0.5638), (115.1, 0.5586), (125.9, 0.5673),
                (139.9, 0.5725), (144.4, 0.55), (146.9, 0.5586), (154.5, 0.5621), (157.5, 0.5517), (168, 0.5517)]
ST_SERIES = ["Total", "Used"]
ST_COLORS = ["#7EB26D", "#EAB839"]

UPTIME_VALUE = 116.9
UPTIME_UNIT = "h"

# ---------------- helpers ----------------

def df_regular(vals, series):
    step = SPAN_H / (len(vals) - 1)
    return pd.DataFrame({"time": [iso(i * step) for i in range(len(vals))], "value": vals, "series": series})


def df_pairs(pairs, series):
    return pd.DataFrame({"time": [iso(h) for h, _ in pairs], "value": [v for _, v in pairs], "series": series})


def bumps_to_pairs(bumps, w=0.2):
    pts = [(0, 0)]
    for h, v in bumps:
        pts += [(h - w, 0), (h, v), (h + w, 0)]
    pts.append((SPAN_H, 0))
    return pts


def x_axis(offset, ticks, fmt="%-m/%-d %H:%M"):
    return alt.Axis(values=[to_alt(t) for t in ticks], format=fmt, formatType="time", title=None,
                    grid=False, domain=False, ticks=False, labelPadding=12,
                    labelFont=FONT, labelFontSize=22, labelColor=TEXT, labelOverlap=False, offset=offset)


def y_axis(offset, values, expr, title=None):
    kw = dict(values=values, labelExpr=expr, grid=False, domain=False, ticks=False,
              labelPadding=12, labelFont=FONT, labelFontSize=22, labelColor=TEXT, offset=offset)
    if title:
        kw.update(title=title, titleFont=FONT, titleFontSize=22, titleFontWeight="normal", titleColor=TEXT,
                  titlePadding=25)
    else:
        kw.update(title=None)
    return alt.Axis(**kw)


def legend(x, y):
    return alt.Legend(orient="none", legendX=x, legendY=y, direction="horizontal", title=None,
                      symbolType="M-1,-0.35L1,-0.35L1,0.35L-1,0.35Z", symbolSize=529, symbolOpacity=1,
                      symbolStrokeWidth=0, labelFont=FONT, labelFontSize=22, labelColor=TEXT, labelOffset=8,
                      columnPadding=22, padding=0, labelLimit=500)


def panel_title(text, x, y):
    return alt.Chart(pd.DataFrame({"t": [text]})).mark_text(
        font=FONT, fontSize=25, fontWeight=500, color=TEXT, align="center", baseline="middle").encode(
        text="t:N", x=alt.value(x), y=alt.value(y))


def xscale(left, right):
    return alt.Scale(domain=X_DOMAIN, nice=False, range=[left, right])


def grid_layers(x_enc_field, x_ticks, y_enc_field, y_ticks, box):
    """Grid lines drawn as rules through the panel's own scales (behind the data)."""
    left, right, top, bottom = box
    vx = alt.Chart(pd.DataFrame({"time": [t.strftime("%Y-%m-%dT%H:%M:%S") for t in x_ticks]})).mark_rule(
        color=GRID, strokeWidth=1.5).encode(x=x_enc_field, y=alt.value(top), y2=alt.value(bottom))
    hy = alt.Chart(pd.DataFrame({"value": y_ticks})).mark_rule(color=GRID, strokeWidth=1.5).encode(
        y=y_enc_field, x=alt.value(left), x2=alt.value(right))
    return [vx, hy]


# Each chart's view is the whole panel; the plot area inside it is set by the scale ranges.
# ---------------- Z-Wave panel ----------------
ZW_W, ZW_H = 2859, 696
ZW_L, ZW_R, ZW_T, ZW_B = 122, 2784, 68, 594
ZW_YT = [0, 500, 1000, 1500, 2000]
zw_dfs = [df_regular(RX, "RX"), df_pairs(bumps_to_pairs(TX_BUMPS), "TX"), df_pairs(bumps_to_pairs(ERR_BUMPS), "Errors")]
zw_x = alt.X("time:T", scale=xscale(ZW_L, ZW_R), axis=x_axis(ZW_B - ZW_H, TICK_12H))
zw_y = alt.Y("value:Q", scale=alt.Scale(domain=[0, 2000], nice=False, range=[ZW_B, ZW_T]),
             axis=y_axis(-ZW_L, ZW_YT, "format(datum.value, 'd')", "Packets / hr"))
zw_c = alt.Color("series:N", scale=alt.Scale(domain=ZW_SERIES, range=ZW_COLORS), legend=legend(40, 651))
zw_layers = grid_layers(zw_x, TICK_12H, zw_y, ZW_YT, (ZW_L, ZW_R, ZW_T, ZW_B))
zw_layers.append(panel_title("Z-Wave", 1429.5, 29))
zw_layers += [alt.Chart(d).mark_area(opacity=0.1).encode(x=zw_x, y=zw_y, color=zw_c) for d in zw_dfs]
zw_layers += [alt.Chart(d).mark_line(strokeWidth=2).encode(x=zw_x, y=zw_y, color=zw_c) for d in zw_dfs]
zwave = alt.layer(*zw_layers).properties(width=ZW_W, height=ZW_H)

# ---------------- Uptime panel ----------------
UP_W, UP_H = 551, 536
up_df = pd.DataFrame({"v": [f"{UPTIME_VALUE:.1f}"], "u": [UPTIME_UNIT]})
uptime = alt.layer(
    panel_title("Uptime", 275.5, 29),
    alt.Chart(up_df).mark_text(font=FONT, fontSize=63, fontWeight="bold", color=TEXT, align="right",
                               baseline="alphabetic").encode(text="v:N", x=alt.value(343), y=alt.value(313)),
    alt.Chart(up_df).mark_text(font=FONT, fontSize=40, fontWeight="bold", color=TEXT, align="left",
                               baseline="alphabetic").encode(text="u:N", x=alt.value(348), y=alt.value(313)),
).properties(width=UP_W, height=UP_H)

# ---------------- Load panel ----------------
LD_W, LD_H = 2859, 536
LD_L, LD_R, LD_T, LD_B = 76, 2784, 67.5, 434.6
LD_YT = [0, 0.25, 0.5, 0.75, 1.0]
ld_dfs = [df_regular(LOAD_1, LOAD_SERIES[0]), df_regular(LOAD_15, LOAD_SERIES[1]), df_regular(LOAD_5, LOAD_SERIES[2])]
LD_XS = xscale(LD_L, LD_R)
ld_x = alt.X("time:T", scale=LD_XS, axis=x_axis(LD_B - LD_H, TICK_12H))
ld_y = alt.Y("value:Q", scale=alt.Scale(domain=[0, 1.1], nice=False, clamp=True, range=[LD_B, LD_T]),
             axis=y_axis(-LD_L, LD_YT, "datum.value == 0 ? '0' : format(datum.value, '.2f')"))
ld_c = alt.Color("series:N", scale=alt.Scale(domain=LOAD_SERIES, range=LOAD_COLORS), legend=legend(40, 492.5))
ver_df = pd.DataFrame({"version": VERSIONS, "start": [iso(h) for h in VERSION_START_H],
                       "end": [iso(h) for h in VERSION_END_H]})
ver_scale = alt.Scale(domain=VERSIONS, range=VERSION_COLORS)
ver_x = alt.X("start:T", scale=LD_XS, axis=x_axis(LD_B - LD_H, TICK_12H))
ld_layers = [alt.Chart(ver_df).mark_rect(opacity=0.1).encode(
    x=ver_x, x2=alt.X2("end:T"), y=alt.value(LD_T), y2=alt.value(LD_B),
    fill=alt.Fill("version:N", scale=ver_scale, legend=legend(2637, 492.5)))]
ld_layers += grid_layers(ld_x, TICK_12H, ld_y, LD_YT, (LD_L, LD_R, LD_T, LD_B))
ld_layers.append(panel_title("Homey load averages", 1429.5, 28))
ld_layers += [alt.Chart(d).mark_area(opacity=0.1).encode(x=ld_x, y=ld_y, color=ld_c) for d in ld_dfs]
ld_layers += [alt.Chart(d).mark_line(strokeWidth=2).encode(x=ld_x, y=ld_y, color=ld_c) for d in ld_dfs]
ld_layers.append(alt.Chart(ver_df).mark_rule(strokeWidth=3).encode(
    x=ver_x, x2=alt.X2("end:T"), y=alt.value(LD_T + 0.5),
    stroke=alt.Stroke("version:N", scale=ver_scale, legend=None)))
ld_layers.append(alt.Chart(ver_df[ver_df["version"] == "v2.1.2"]).mark_rule(color="#0c0c0d", strokeWidth=2).encode(
    x=ver_x, y=alt.value(LD_T), y2=alt.value(LD_B)))
load = alt.layer(*ld_layers).properties(width=LD_W, height=LD_H)

# ---------------- Memory panel ----------------
MM_W, MM_H = 2281, 696
MM_L, MM_R, MM_T, MM_B = 106.6, 2186, 68.5, 642
MM_YT = [0, 25, 50, 75, 100, 125, 150]
mm_x = alt.X("time:T", scale=xscale(MM_L, MM_R), axis=x_axis(MM_B - MM_H, TICK_12H))
mm_y = alt.Y("value:Q", scale=alt.Scale(domain=[0, 150], nice=False, range=[MM_B, MM_T]),
             axis=y_axis(-MM_L, MM_YT, "datum.value == 0 ? '0' : datum.value + ' Mil'"))
mm_layers = grid_layers(mm_x, TICK_12H, mm_y, MM_YT, (MM_L, MM_R, MM_T, MM_B))
mm_layers.append(panel_title("Homey memory", 1140.5, 29))
mm_layers += [alt.Chart(df_pairs(p, n)).mark_area(opacity=0.1, color=c).encode(x=mm_x, y=mm_y)
              for n, c, p in MEM_SERIES]
mm_layers += [alt.Chart(df_pairs(p, n)).mark_line(strokeWidth=2, color=c).encode(x=mm_x, y=mm_y)
              for n, c, p in MEM_SERIES]
memory = alt.layer(*mm_layers).properties(width=MM_W, height=MM_H)

# ---------------- Storage panel ----------------
ST_W, ST_H = 1129, 696
ST_L, ST_R, ST_T, ST_B = 106, 1083, 68.5, 594
ST_YT = [0, 0.5, 1.0, 1.5, 2.0]
st_x = alt.X("time:T", scale=xscale(ST_L, ST_R), axis=x_axis(ST_B - ST_H, TICK_DAY, fmt="%-m/%-d"))
st_y = alt.Y("value:Q", scale=alt.Scale(domain=[0, 2], nice=False, range=[ST_B, ST_T]),
             axis=y_axis(-ST_L, ST_YT,
                         "datum.value == 0 ? '0' : (datum.value < 1 ? format(datum.value * 1000, 'd') + ' Mil' : format(datum.value, '.1f') + ' Bil')"))
st_c = alt.Color("series:N", scale=alt.Scale(domain=ST_SERIES, range=ST_COLORS), legend=legend(40, 651))
st_dfs = [df_pairs(STORAGE_TOTAL, "Total"), df_pairs(STORAGE_USED, "Used")]
st_layers = grid_layers(st_x, TICK_DAY, st_y, ST_YT, (ST_L, ST_R, ST_T, ST_B))
st_layers.append(panel_title("Storage use", 564.5, 29))
st_layers += [alt.Chart(d).mark_area(opacity=0.1, interpolate="step-after").encode(x=st_x, y=st_y, color=st_c)
              for d in st_dfs]
st_layers += [alt.Chart(d).mark_line(strokeWidth=2, interpolate="step-after").encode(x=st_x, y=st_y, color=st_c)
              for d in st_dfs]
storage = alt.layer(*st_layers).properties(width=ST_W, height=ST_H)

# ---------------- dashboard ----------------
IND = dict(color="independent", fill="independent", stroke="independent")
row1 = alt.hconcat(zwave, uptime, spacing=25).resolve_scale(**IND).resolve_legend(**IND)
row3 = alt.hconcat(memory, storage, spacing=25).resolve_scale(**IND).resolve_legend(**IND)
chart = alt.vconcat(row1, load, row3, spacing=24).resolve_scale(**IND).resolve_legend(**IND).properties(
    background=BG, padding={"left": 4, "top": 2, "right": 9, "bottom": 6}
).configure_view(strokeWidth=0, fill=PANEL, cornerRadius=4)

chart.save("out.html", embed_options={"renderer": "svg", "actions": False})
